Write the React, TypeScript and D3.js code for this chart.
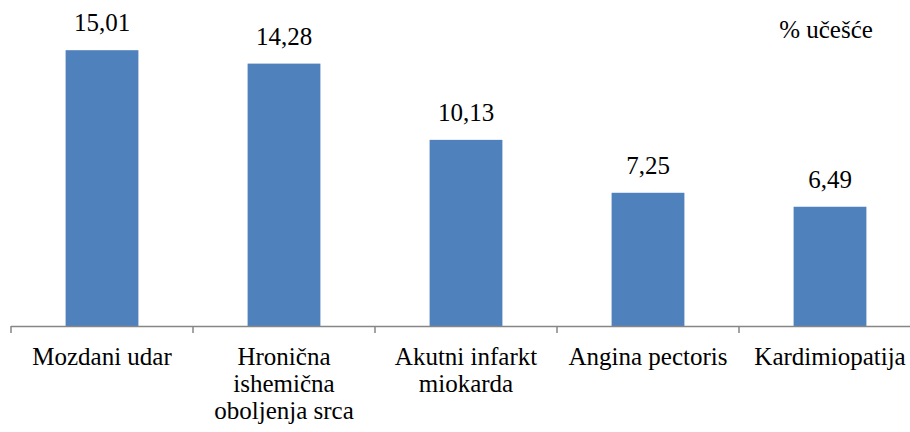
import React from "react";
import * as d3 from "d3";

const categories: string[] = [
  "Mozdani udar",
  "Hronična\nishemična\noboljenja srca",
  "Akutni infarkt\nmiokarda",
  "Angina pectoris",
  "Kardimiopatija",
];
const values: number[] = [15.01, 14.28, 10.13, 7.25, 6.49];
const unitLabel = "% učešće";

const W = 910;
const H = 432;
const FAMILY = '"Liberation Serif", "Times New Roman", Tinos, Times';
const textStyle: React.CSSProperties = {
  fontFamily: FAMILY,
  fontSize: "25px",
};

export default function App() {
  const x = d3
    .scaleBand<string>()
    .domain(categories)
    .range([11, 921])
    .paddingInner(0.6)
    .paddingOuter(0.3);
  const y = d3.scaleLinear().domain([0, 16]).range([326, 32]);
  const step = x.step();
  const fmt = (v: number) => v.toFixed(2).replace(".", ",");
  const ticks = d3.range(categories.length + 1).map((i) => 11 + i * step);

  return (
    <div style={{ fontFamily: FAMILY }}>
      <svg
        width={W}
        height={H}
        fontFamily={FAMILY}
        style={{ position: "absolute", left: 0, top: 0, background: "#fff", fontFamily: FAMILY }}
      >
        <style>{`text, tspan { font-family: ${FAMILY}; font-size: 25px; }`}</style>
        {categories.map((c, i) => (
          <rect
            key={c}
            x={x(c)!}
            y={y(values[i])}
            width={x.bandwidth()}
            height={y(0) - y(values[i])}
            fill="#4F81BD"
          />
        ))}
        <line x1={11} x2={W} y1={326.5} y2={326.5} stroke="#868686" strokeWidth={1.5} />
        {ticks.map((t, i) => (
          <line key={i} x1={t} x2={t} y1={326} y2={333} stroke="#868686" strokeWidth={1.5} />
        ))}
        {categories.map((c, i) => (
          <text
            key={"v" + c}
            x={x(c)! + x.bandwidth() / 2}
            y={y(values[i]) - 19}
            textAnchor="middle"
            style={textStyle}
            fill="#000"
          >
            {fmt(values[i])}
          </text>
        ))}
        {categories.map((c) => (
          <text
            key={"c" + c}
            x={x(c)! + x.bandwidth() / 2}
            y={365}
            textAnchor="middle"
            style={textStyle}
            fill="#000"
          >
            {c.split("\n").map((line, j) => (
              <tspan key={j} x={x(c)! + x.bandwidth() / 2} dy={j === 0 ? 0 : 27}>
                {line}
              </tspan>
            ))}
          </text>
        ))}
        <text x={826} y={38} textAnchor="middle" style={textStyle} fill="#000">
          {unitLabel}
        </text>
      </svg>
    </div>
  );
}
